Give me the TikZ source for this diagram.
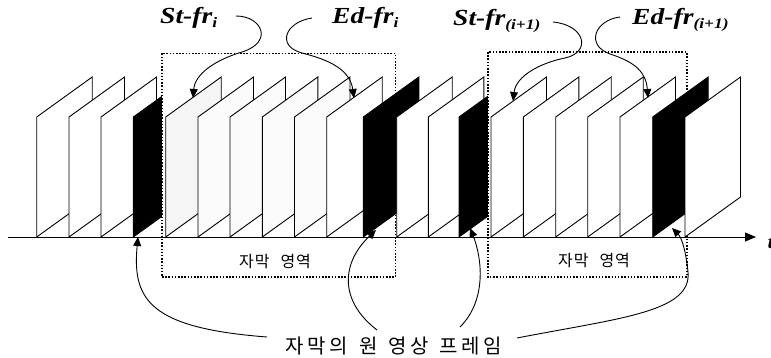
\documentclass[tikz,border=0pt]{standalone}
\usepackage{fontspec}
\setmainfont{Liberation Serif}[FakeStretch=1.2]
\newfontfamily\kr{Noto Sans CJK KR}
\usetikzlibrary{arrows.meta}
\newcommand\sbs[1]{\raisebox{-4pt}{\fontsize{14.5}{14.5}\selectfont #1}}
\begin{document}
\begin{tikzpicture}[x=1pt,y=-1pt,
  frm/.style={draw=black, line width=0.9pt, fill=white, line join=miter},
  blk/.style={frm, fill=black},
  gA/.style={frm, fill=gray!8},
  gB/.style={frm, fill=gray!3},
  dotbox/.style={line width=1.6pt, dash pattern=on 1.5pt off 1.7pt, fill=white},
  conn/.style={line width=0.9pt, -{Triangle[length=9pt,width=8pt]}},
  lbl/.style={font=\fontsize{23}{25}\selectfont\bfseries\itshape, inner sep=0pt, anchor=base west},
  kor/.style={font=\kr\fontsize{16}{18}\selectfont, inner sep=0pt},
  korb/.style={font=\kr\fontsize{20}{22}\selectfont, inner sep=0pt}
]
\useasboundingbox (0,0) rectangle (771,357);

% frames left of the first region
\foreach \x/\s in {36.7/frm, 69/frm, 101/frm, 133.3/blk}
  \draw[\s] (\x,237) -- ++(55.5,-40) -- ++(0,-120) -- ++(-55.5,40) -- cycle;

% first subtitle region
\draw[dotbox] (161.7,53.3) rectangle (395.5,277);

\foreach \x/\s in {165.7/gA, 198/gB, 230/gB, 262.3/gB, 294.5/gB, 326.7/frm, 363.3/blk,
  396.7/frm, 428.3/frm, 459/blk}
  \draw[\s] (\x,237) -- ++(55.5,-40) -- ++(0,-120) -- ++(-55.5,40) -- cycle;

% second subtitle region
\draw[dotbox] (487.7,52) rectangle (686.7,277);

\foreach \x/\s in {491/frm, 523.3/frm, 555.7/frm, 587.7/frm, 620/frm, 652.7/blk, 685/frm}
  \draw[\s] (\x,237) -- ++(55.5,-40) -- ++(0,-120) -- ++(-55.5,40) -- cycle;

% time axis
\coordinate (ax0) at (8,237);
\coordinate (ax1) at (756,237);
\draw[line width=0.9pt, -{Triangle[length=11pt,width=9pt]}] (ax0) -- (ax1);
\node[font=\fontsize{20}{22}\selectfont\bfseries\itshape, anchor=west, inner sep=0pt] (t) at (767.5,243) {t};

% region labels
\node[kor] (r1) at (275,262) {자\kern1pt 막\hspace{11pt}영\kern1pt 역};
\node[kor] (r2) at (594,261) {자\kern1pt 막\hspace{11pt}영\kern1pt 역};

% top labels
\node[lbl] (st1) at (160,23) {St-fr\sbs{i}};
\node[lbl] (ed1) at (332,23) {Ed-fr\sbs{i}};
\node[lbl] (st2) at (453,25) {St-fr\sbs{(i+1)}};
\node[lbl] (ed2) at (632,24) {Ed-fr\sbs{(i+1)}};

% bottom label
\node[korb] (src) at (394,346) {자\kern3.5pt 막\kern3.5pt 의\hspace{11pt}원\hspace{11pt}영\kern3.5pt 상\hspace{11pt}프\kern3.5pt 레\kern3.5pt 임};

% arrow end points
\coordinate (st1s) at (236,16);
\coordinate (st1e) at (193,98);
\coordinate (ed1s) at (312,18);
\coordinate (ed1e) at (354,98);
\coordinate (st2s) at (553,22);
\coordinate (st2e) at (513,101);
\coordinate (ed2s) at (620,17);
\coordinate (ed2e) at (648,98);
\coordinate (b1s) at (267,337);
\coordinate (b1e) at (138,237);
\coordinate (b2s) at (377,330);
\coordinate (b2e) at (376,230);
\coordinate (b3s) at (460,327);
\coordinate (b3e) at (470,228);
\coordinate (b4s) at (517,338);
\coordinate (b4e) at (672,228);

\draw[conn] (st1s) .. controls (262,16) and (274,42) .. (242,52) .. controls (215,60) and (195,74) .. (st1e);
\draw[conn] (ed1s) .. controls (285,22) and (276,46) .. (302,53) .. controls (330,60) and (350,70) .. (ed1e);
\draw[conn] (st2s) .. controls (585,25) and (592,52) .. (565,58) .. controls (540,63) and (516,76) .. (st2e);
\draw[conn] (ed2s) .. controls (595,20) and (585,45) .. (610,54) .. controls (635,62) and (646,72) .. (ed2e);

\draw[conn] (b1s) .. controls (150,328) and (132,300) .. (b1e);
\draw[conn] (b2s) .. controls (338,300) and (342,262) .. (b2e);
\draw[conn] (b3s) .. controls (487,300) and (482,258) .. (b3e);
\draw[conn] (b4s) .. controls (620,318) and (692,312) .. (688,272) .. controls (686,252) and (682,238) .. (b4e);
\end{tikzpicture}
\end{document}
